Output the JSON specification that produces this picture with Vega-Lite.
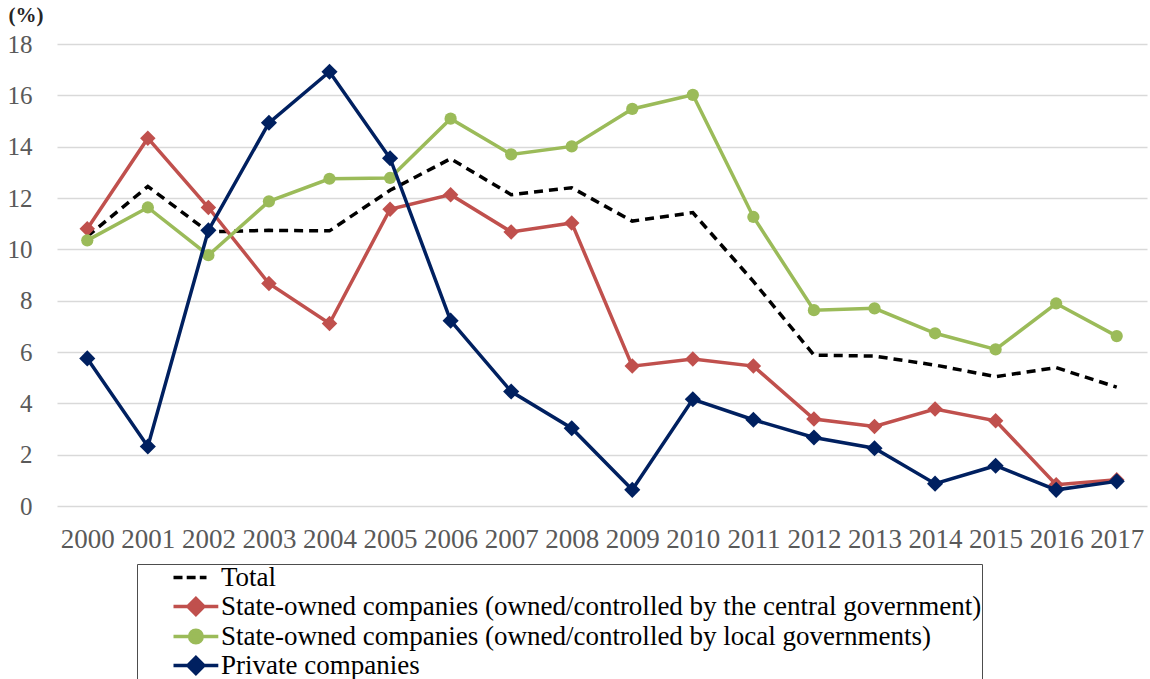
{
  "$schema": "https://vega.github.io/schema/vega-lite/v6.json",
  "width": 1090,
  "height": 462,
  "autosize": {"type": "none"},
  "padding": {"left": 57, "top": 44, "right": 3, "bottom": 173},
  "background": "white",
  "config": {
    "font": "Liberation Serif",
    "view": {"stroke": null}
  },
  "data": {
    "values": [
      {"year": "2000", "Total": 10.5, "State-owned companies (owned/controlled by the central government)": 10.8, "State-owned companies (owned/controlled by local governments)": 10.35, "Private companies": 5.75},
      {"year": "2001", "Total": 12.45, "State-owned companies (owned/controlled by the central government)": 14.33, "State-owned companies (owned/controlled by local governments)": 11.63, "Private companies": 2.32},
      {"year": "2002", "Total": 10.68, "State-owned companies (owned/controlled by the central government)": 11.63, "State-owned companies (owned/controlled by local governments)": 9.77, "Private companies": 10.74},
      {"year": "2003", "Total": 10.74, "State-owned companies (owned/controlled by the central government)": 8.67, "State-owned companies (owned/controlled by local governments)": 11.87, "Private companies": 14.93},
      {"year": "2004", "Total": 10.72, "State-owned companies (owned/controlled by the central government)": 7.11, "State-owned companies (owned/controlled by local governments)": 12.75, "Private companies": 16.92},
      {"year": "2005", "Total": 12.3, "State-owned companies (owned/controlled by the central government)": 11.56, "State-owned companies (owned/controlled by local governments)": 12.78, "Private companies": 13.55},
      {"year": "2006", "Total": 13.53, "State-owned companies (owned/controlled by the central government)": 12.13, "State-owned companies (owned/controlled by local governments)": 15.09, "Private companies": 7.22},
      {"year": "2007", "Total": 12.13, "State-owned companies (owned/controlled by the central government)": 10.68, "State-owned companies (owned/controlled by local governments)": 13.7, "Private companies": 4.46},
      {"year": "2008", "Total": 12.4, "State-owned companies (owned/controlled by the central government)": 11.03, "State-owned companies (owned/controlled by local governments)": 14.01, "Private companies": 3.03},
      {"year": "2009", "Total": 11.1, "State-owned companies (owned/controlled by the central government)": 5.45, "State-owned companies (owned/controlled by local governments)": 15.47, "Private companies": 0.63},
      {"year": "2010", "Total": 11.43, "State-owned companies (owned/controlled by the central government)": 5.73, "State-owned companies (owned/controlled by local governments)": 16.02, "Private companies": 4.16},
      {"year": "2011", "Total": 8.75, "State-owned companies (owned/controlled by the central government)": 5.45, "State-owned companies (owned/controlled by local governments)": 11.26, "Private companies": 3.36},
      {"year": "2012", "Total": 5.88, "State-owned companies (owned/controlled by the central government)": 3.39, "State-owned companies (owned/controlled by local governments)": 7.63, "Private companies": 2.67},
      {"year": "2013", "Total": 5.84, "State-owned companies (owned/controlled by the central government)": 3.1, "State-owned companies (owned/controlled by local governments)": 7.7, "Private companies": 2.25},
      {"year": "2014", "Total": 5.49, "State-owned companies (owned/controlled by the central government)": 3.78, "State-owned companies (owned/controlled by local governments)": 6.73, "Private companies": 0.87},
      {"year": "2015", "Total": 5.04, "State-owned companies (owned/controlled by the central government)": 3.32, "State-owned companies (owned/controlled by local governments)": 6.1, "Private companies": 1.57},
      {"year": "2016", "Total": 5.39, "State-owned companies (owned/controlled by the central government)": 0.83, "State-owned companies (owned/controlled by local governments)": 7.89, "Private companies": 0.63},
      {"year": "2017", "Total": 4.63, "State-owned companies (owned/controlled by the central government)": 1.02, "State-owned companies (owned/controlled by local governments)": 6.62, "Private companies": 0.96}
    ]
  },
  "transform": [
    {"fold": ["Total", "State-owned companies (owned/controlled by the central government)", "State-owned companies (owned/controlled by local governments)", "Private companies"], "as": ["series", "value"]}
  ],
  "encoding": {
    "x": {
      "field": "year",
      "type": "ordinal",
      "sort": null,
      "scale": {"type": "point", "padding": 0.5},
      "axis": {
        "title": null,
        "labelAngle": 0,
        "labelFontSize": 27,
        "labelColor": "#595959",
        "labelPadding": 20,
        "labelOverlap": false,
        "ticks": false,
        "domain": false,
        "grid": false
      }
    },
    "y": {
      "field": "value",
      "type": "quantitative",
      "scale": {"domain": [0, 18], "nice": false, "zero": true},
      "axis": {
        "values": [0, 2, 4, 6, 8, 10, 12, 14, 16, 18],
        "title": "(%)",
        "titleAngle": 0,
        "titleX": -49,
        "titleY": -29,
        "titleAlign": "left",
        "titleBaseline": "middle",
        "titleFontSize": 21,
        "titleFontWeight": "bold",
        "titleColor": "#262626",
        "labelFontSize": 25,
        "labelColor": "#595959",
        "labelPadding": 25,
        "ticks": false,
        "domain": false,
        "gridColor": "#d9d9d9",
        "gridWidth": 1.5
      }
    },
    "color": {
      "field": "series",
      "type": "nominal",
      "scale": {
        "domain": ["Total", "State-owned companies (owned/controlled by the central government)", "State-owned companies (owned/controlled by local governments)", "Private companies"],
        "range": ["#000000", "#C0504D", "#9BBB59", "#002060"]
      },
      "legend": {
        "orient": "none",
        "legendX": 80,
        "legendY": 520,
        "title": null,
        "direction": "vertical",
        "strokeColor": "#4d4d4d",
        "fillColor": "white",
        "padding": 0,
        "symbolOffset": 37,
        "symbolSize": 400,
        "symbolStrokeWidth": 1,
        "labelOffset": 20,
        "labelFontSize": 27,
        "labelColor": "#000000",
        "labelLimit": 1200,
        "rowPadding": 0,
        "encode": {
          "symbols": {
            "update": {
              "shape": {"signal": "datum.value === 'Total' ? 'M-1.4,0H-0.5M-0.08,0H0.81M1.23,0H1.9' : (datum.value === 'State-owned companies (owned/controlled by local governments)' ? 'M-1.4,0H3.08M0.21,0A0.63,0.63,0,1,0,1.47,0A0.63,0.63,0,1,0,0.21,0Z' : 'M-1.4,0H3.08M0.84,-0.8L1.64,0L0.84,0.8L0.04,0Z')"},
              "fill": {"signal": "datum.value === 'Total' ? 'transparent' : scale('color', datum.value)"},
              "stroke": {"signal": "scale('color', datum.value)"},
              "strokeWidth": {"value": 3.5},
              "opacity": {"value": 1}
            }
          }
        }
      }
    }
  },
  "layer": [
    {
      "transform": [{"filter": "datum.series === 'Total'"}],
      "mark": {"type": "line", "strokeWidth": 3.5, "strokeDash": [9, 6]}
    },
    {
      "transform": [{"filter": "datum.series === 'State-owned companies (owned/controlled by the central government)'"}],
      "mark": {"type": "line", "strokeWidth": 3.5}
    },
    {
      "transform": [{"filter": "datum.series === 'State-owned companies (owned/controlled by the central government)'"}],
      "mark": {"type": "point", "shape": "diamond", "filled": true, "size": 240, "opacity": 1}
    },
    {
      "transform": [{"filter": "datum.series === 'State-owned companies (owned/controlled by local governments)'"}],
      "mark": {"type": "line", "strokeWidth": 3.5}
    },
    {
      "transform": [{"filter": "datum.series === 'State-owned companies (owned/controlled by local governments)'"}],
      "mark": {"type": "point", "shape": "circle", "filled": true, "size": 150, "opacity": 1}
    },
    {
      "transform": [{"filter": "datum.series === 'Private companies'"}],
      "mark": {"type": "line", "strokeWidth": 3.5}
    },
    {
      "transform": [{"filter": "datum.series === 'Private companies'"}],
      "mark": {"type": "point", "shape": "diamond", "filled": true, "size": 260, "opacity": 1}
    }
  ]
}
